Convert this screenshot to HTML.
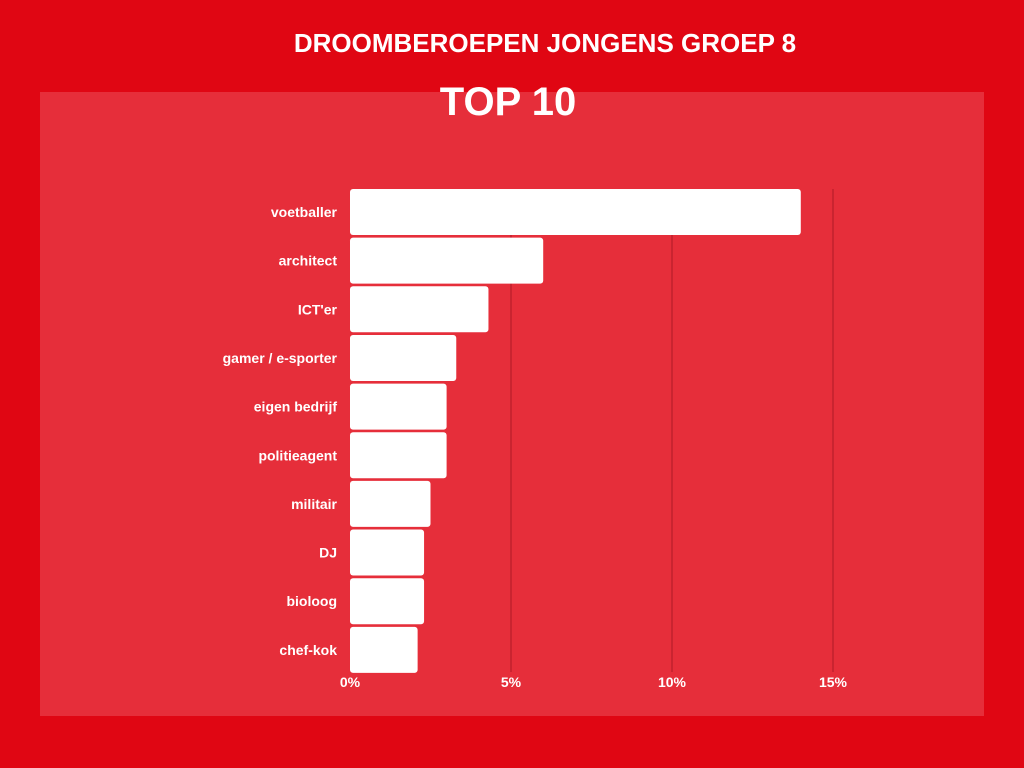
<!DOCTYPE html>
<html><head><meta charset="utf-8"><style>
body{margin:0;width:1024px;height:768px;background:#e00613;font-family:"Liberation Sans",sans-serif;overflow:hidden;position:relative}
#panel{position:absolute;left:40px;top:92px;width:944px;height:624px;background:#e62e3a}
h1{position:absolute;top:28px;left:0;width:1090px;text-align:center;margin:0;color:#fff;font-size:26px;font-weight:bold}
h2{position:absolute;top:80px;left:0;width:1016px;text-align:center;margin:0;color:#fff;font-size:40px;font-weight:bold}
svg{position:absolute;left:0;top:0}
</style></head><body>
<div id="panel"></div>
<h1>DROOMBEROEPEN JONGENS GROEP 8</h1>
<h2>TOP 10</h2>
<svg id="c" width="1024" height="768"></svg>
<script>
const categories=["voetballer","architect","ICT'er","gamer / e-sporter","eigen bedrijf","politieagent","militair","DJ","bioloog","chef-kok"];
const values=[14,6,4.3,3.3,3,3,2.5,2.3,2.3,2.1];
const ticks=[0,5,10,15];
const tickLabels=["0%","5%","10%","15%"];
const NS="http://www.w3.org/2000/svg",svg=document.getElementById('c');
const x0=350,pxPer=32.2,top0=189,pitch=48.65,bh=46;
const xs=v=>x0+v*pxPer;
function mk(t,a){const e=document.createElementNS(NS,t);for(const k in a)e.setAttribute(k,a[k]);svg.appendChild(e);return e;}
ticks.forEach((t,i)=>{
 if(t>0){const l=mk('line',{x1:xs(t),x2:xs(t),y1:189,y2:672,stroke:'#b81e2a','stroke-width':1.2});
 
 }
 const tx=mk('text',{x:xs(t),y:687,fill:'#fff','font-size':14,'font-weight':'bold','text-anchor':'middle','font-family':'Liberation Sans'});
 tx.textContent=tickLabels[i];
 
 
});
categories.forEach((c,i)=>{
 const y=top0+i*pitch;
 const r=mk('rect',{x:x0,y:y,width:xs(values[i])-x0,height:bh,rx:3,fill:'#fff'});
 
 
 const t=mk('text',{x:337,y:y+bh/2+5,fill:'#fff','font-size':14,'font-weight':'bold','text-anchor':'end','font-family':'Liberation Sans'});
 t.textContent=c;
 
 
});
</script>
</body></html>
